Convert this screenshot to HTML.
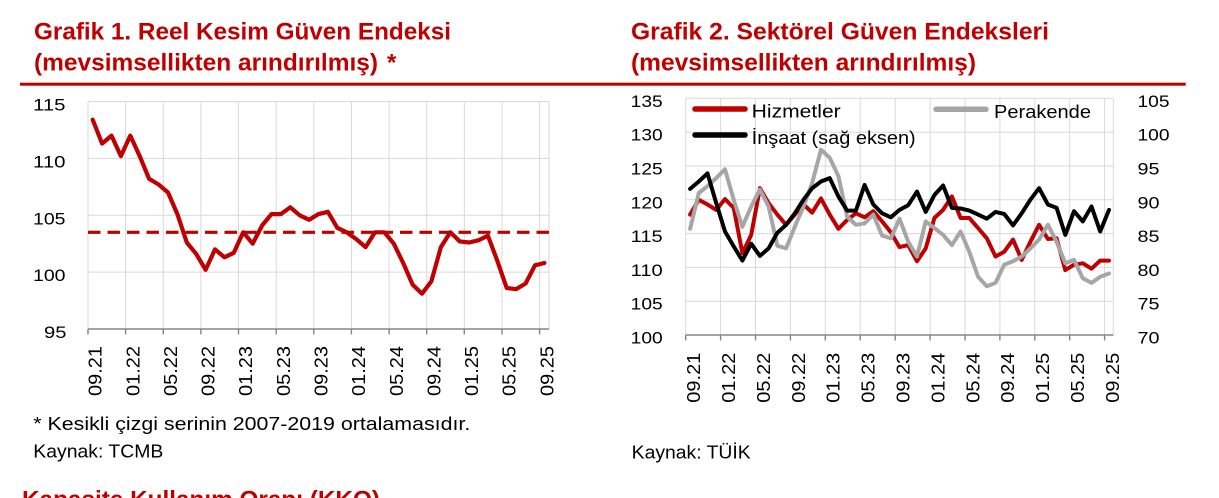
<!DOCTYPE html>
<html><head><meta charset="utf-8"><style>
html,body{margin:0;padding:0;background:#fff;}
svg{display:block;}
text{font-family:"Liberation Sans",Arial,sans-serif;}
</style></head><body>
<svg width="1219" height="498" viewBox="0 0 1219 498" xmlns="http://www.w3.org/2000/svg">
<rect width="1219" height="498" fill="#fff"/>

<!-- Titles -->
<g fill="#C00000" font-weight="bold" font-size="24">
<text x="34" y="39.3" textLength="417" lengthAdjust="spacingAndGlyphs">Grafik 1. Reel Kesim Güven Endeksi</text>
<text x="34" y="70.5" textLength="344" lengthAdjust="spacingAndGlyphs">(mevsimsellikten arındırılmış)</text>
<text x="387" y="70.5">*</text>
<text x="631" y="39.3" textLength="418" lengthAdjust="spacingAndGlyphs">Grafik 2. Sektörel Güven Endeksleri</text>
<text x="631" y="70.5" textLength="345" lengthAdjust="spacingAndGlyphs">(mevsimsellikten arındırılmış)</text>
<text x="22" y="507.7" textLength="358" lengthAdjust="spacingAndGlyphs">Kapasite Kullanım Oranı (KKO)</text>
</g>
<rect x="20" y="82.7" width="1165.7" height="3" fill="#C00000"/>

<!-- ============ LEFT CHART ============ -->
<g stroke="#d9d9d9" stroke-width="1" fill="none">
<line x1="88" y1="101.5" x2="549" y2="101.5"/>
<line x1="88" y1="158.4" x2="549" y2="158.4"/>
<line x1="88" y1="215.25" x2="549" y2="215.25"/>
<line x1="88" y1="272.1" x2="549" y2="272.1"/>
<line x1="88" y1="101.5" x2="88" y2="329"/>
<line x1="125.6" y1="101.5" x2="125.6" y2="329"/>
<line x1="163.3" y1="101.5" x2="163.3" y2="329"/>
<line x1="200.9" y1="101.5" x2="200.9" y2="329"/>
<line x1="238.5" y1="101.5" x2="238.5" y2="329"/>
<line x1="276.2" y1="101.5" x2="276.2" y2="329"/>
<line x1="313.8" y1="101.5" x2="313.8" y2="329"/>
<line x1="351.4" y1="101.5" x2="351.4" y2="329"/>
<line x1="389.1" y1="101.5" x2="389.1" y2="329"/>
<line x1="426.7" y1="101.5" x2="426.7" y2="329"/>
<line x1="464.3" y1="101.5" x2="464.3" y2="329"/>
<line x1="502.0" y1="101.5" x2="502.0" y2="329"/>
<line x1="539.6" y1="101.5" x2="539.6" y2="329"/>
<line x1="549" y1="101.5" x2="549" y2="329"/>
</g>
<g stroke="#868686" stroke-width="1.4" fill="none">
<line x1="88" y1="329" x2="549" y2="329"/>
<path d="M88 329v5.5M125.6 329v5.5M163.3 329v5.5M200.9 329v5.5M238.5 329v5.5M276.2 329v5.5M313.8 329v5.5M351.4 329v5.5M389.1 329v5.5M426.7 329v5.5M464.3 329v5.5M502 329v5.5M539.6 329v5.5"/>
</g>
<g font-size="17" fill="#000" text-anchor="end">
<text x="65.5" y="110.5" textLength="32.5" lengthAdjust="spacingAndGlyphs">115</text>
<text x="65.5" y="167.4" textLength="32.5" lengthAdjust="spacingAndGlyphs">110</text>
<text x="65.5" y="224.3" textLength="32.5" lengthAdjust="spacingAndGlyphs">105</text>
<text x="65.5" y="281.1" textLength="32.5" lengthAdjust="spacingAndGlyphs">100</text>
<text x="66.5" y="338" textLength="22.5" lengthAdjust="spacingAndGlyphs">95</text>
</g>
<g font-size="18" fill="#000" text-anchor="end">
<text transform="translate(101.7,346) rotate(-90)" textLength="50" lengthAdjust="spacingAndGlyphs">09.21</text>
<text transform="translate(139.3,346) rotate(-90)" textLength="50" lengthAdjust="spacingAndGlyphs">01.22</text>
<text transform="translate(177.0,346) rotate(-90)" textLength="50" lengthAdjust="spacingAndGlyphs">05.22</text>
<text transform="translate(214.6,346) rotate(-90)" textLength="50" lengthAdjust="spacingAndGlyphs">09.22</text>
<text transform="translate(252.2,346) rotate(-90)" textLength="50" lengthAdjust="spacingAndGlyphs">01.23</text>
<text transform="translate(289.9,346) rotate(-90)" textLength="50" lengthAdjust="spacingAndGlyphs">05.23</text>
<text transform="translate(327.5,346) rotate(-90)" textLength="50" lengthAdjust="spacingAndGlyphs">09.23</text>
<text transform="translate(365.2,346) rotate(-90)" textLength="50" lengthAdjust="spacingAndGlyphs">01.24</text>
<text transform="translate(402.8,346) rotate(-90)" textLength="50" lengthAdjust="spacingAndGlyphs">05.24</text>
<text transform="translate(440.4,346) rotate(-90)" textLength="50" lengthAdjust="spacingAndGlyphs">09.24</text>
<text transform="translate(478.1,346) rotate(-90)" textLength="50" lengthAdjust="spacingAndGlyphs">01.25</text>
<text transform="translate(515.7,346) rotate(-90)" textLength="50" lengthAdjust="spacingAndGlyphs">05.25</text>
<text transform="translate(553.4,346) rotate(-90)" textLength="50" lengthAdjust="spacingAndGlyphs">09.25</text>
</g>
<line x1="88" y1="232.3" x2="549" y2="232.3" stroke="#C00000" stroke-width="3.2" stroke-dasharray="12.5 7"/>
<polyline fill="none" stroke="#C00000" stroke-width="4.2" stroke-linejoin="round" stroke-linecap="round" points="92.7,119.7 102.1,143.6 111.5,135.6 120.9,156.1 130.3,135.6 139.7,156.1 149.1,178.8 158.6,184.5 168.0,192.5 177.4,214.1 186.8,242.5 196.2,253.9 205.6,269.8 215.0,249.4 224.4,257.3 233.8,252.8 243.2,232.3 252.7,243.7 262.1,225.5 271.5,214.1 280.9,214.1 290.3,207.3 299.7,215.3 309.1,219.8 318.5,214.1 327.9,211.8 337.3,227.8 346.7,232.3 356.2,239.1 365.6,247.1 375.0,232.3 384.4,232.3 393.8,243.7 403.2,263.0 412.6,284.6 422.0,293.7 431.4,281.2 440.9,247.1 450.3,232.3 459.7,241.4 469.1,242.5 478.5,240.3 487.9,235.7 497.3,260.8 506.7,288.0 516.1,289.2 525.6,283.5 535.0,265.3 544.4,263.0"/>

<g font-size="18" fill="#000">
<text x="33.3" y="430" textLength="437" lengthAdjust="spacingAndGlyphs">* Kesikli çizgi serinin 2007-2019 ortalamasıdır.</text>
<text x="33.3" y="457.3" textLength="130" lengthAdjust="spacingAndGlyphs">Kaynak: TCMB</text>
<text x="631.7" y="458.3" textLength="119" lengthAdjust="spacingAndGlyphs">Kaynak: TÜİK</text>
</g>

<!-- ============ RIGHT CHART ============ -->
<g stroke="#d9d9d9" stroke-width="1" fill="none">
<line x1="685.7" y1="98.3" x2="1113.3" y2="98.3"/>
<line x1="685.7" y1="132.2" x2="1113.3" y2="132.2"/>
<line x1="685.7" y1="166.0" x2="1113.3" y2="166.0"/>
<line x1="685.7" y1="199.8" x2="1113.3" y2="199.8"/>
<line x1="685.7" y1="233.6" x2="1113.3" y2="233.6"/>
<line x1="685.7" y1="267.4" x2="1113.3" y2="267.4"/>
<line x1="685.7" y1="301.2" x2="1113.3" y2="301.2"/>
<line x1="685.7" y1="98.3" x2="685.7" y2="335"/>
<line x1="720.6" y1="98.3" x2="720.6" y2="335"/>
<line x1="755.5" y1="98.3" x2="755.5" y2="335"/>
<line x1="790.4" y1="98.3" x2="790.4" y2="335"/>
<line x1="825.3" y1="98.3" x2="825.3" y2="335"/>
<line x1="860.2" y1="98.3" x2="860.2" y2="335"/>
<line x1="895.2" y1="98.3" x2="895.2" y2="335"/>
<line x1="930.1" y1="98.3" x2="930.1" y2="335"/>
<line x1="965.0" y1="98.3" x2="965.0" y2="335"/>
<line x1="999.9" y1="98.3" x2="999.9" y2="335"/>
<line x1="1034.8" y1="98.3" x2="1034.8" y2="335"/>
<line x1="1069.7" y1="98.3" x2="1069.7" y2="335"/>
<line x1="1104.6" y1="98.3" x2="1104.6" y2="335"/>
<line x1="1113.3" y1="98.3" x2="1113.3" y2="335"/>
</g>
<g stroke="#868686" stroke-width="1.4" fill="none">
<line x1="685.7" y1="335" x2="1113.3" y2="335"/>
<path d="M685.7 335v5.5M720.6 335v5.5M755.5 335v5.5M790.4 335v5.5M825.3 335v5.5M860.2 335v5.5M895.2 335v5.5M930.1 335v5.5M965 335v5.5M999.9 335v5.5M1034.8 335v5.5M1069.7 335v5.5M1104.6 335v5.5"/>
</g>
<g font-size="17" fill="#000" text-anchor="end">
<text x="662.7" y="106.8" textLength="32" lengthAdjust="spacingAndGlyphs">135</text>
<text x="662.7" y="140.7" textLength="32" lengthAdjust="spacingAndGlyphs">130</text>
<text x="662.7" y="174.5" textLength="32" lengthAdjust="spacingAndGlyphs">125</text>
<text x="662.7" y="208.3" textLength="32" lengthAdjust="spacingAndGlyphs">120</text>
<text x="662.7" y="242.1" textLength="32" lengthAdjust="spacingAndGlyphs">115</text>
<text x="662.7" y="275.9" textLength="32" lengthAdjust="spacingAndGlyphs">110</text>
<text x="662.7" y="309.7" textLength="32" lengthAdjust="spacingAndGlyphs">105</text>
<text x="662.7" y="343.5" textLength="32" lengthAdjust="spacingAndGlyphs">100</text>
</g>
<g font-size="17" fill="#000">
<text x="1137.5" y="106.8" textLength="32" lengthAdjust="spacingAndGlyphs">105</text>
<text x="1137.5" y="140.7" textLength="32" lengthAdjust="spacingAndGlyphs">100</text>
<text x="1137.5" y="174.5" textLength="22" lengthAdjust="spacingAndGlyphs">95</text>
<text x="1137.5" y="208.3" textLength="22" lengthAdjust="spacingAndGlyphs">90</text>
<text x="1137.5" y="242.1" textLength="22" lengthAdjust="spacingAndGlyphs">85</text>
<text x="1137.5" y="275.9" textLength="22" lengthAdjust="spacingAndGlyphs">80</text>
<text x="1137.5" y="309.7" textLength="22" lengthAdjust="spacingAndGlyphs">75</text>
<text x="1137.5" y="343.5" textLength="22" lengthAdjust="spacingAndGlyphs">70</text>
</g>
<g font-size="18" fill="#000" text-anchor="end">
<text transform="translate(700.1,352.7) rotate(-90)" textLength="50" lengthAdjust="spacingAndGlyphs">09.21</text>
<text transform="translate(735.0,352.7) rotate(-90)" textLength="50" lengthAdjust="spacingAndGlyphs">01.22</text>
<text transform="translate(769.9,352.7) rotate(-90)" textLength="50" lengthAdjust="spacingAndGlyphs">05.22</text>
<text transform="translate(804.8,352.7) rotate(-90)" textLength="50" lengthAdjust="spacingAndGlyphs">09.22</text>
<text transform="translate(839.7,352.7) rotate(-90)" textLength="50" lengthAdjust="spacingAndGlyphs">01.23</text>
<text transform="translate(874.6,352.7) rotate(-90)" textLength="50" lengthAdjust="spacingAndGlyphs">05.23</text>
<text transform="translate(909.5,352.7) rotate(-90)" textLength="50" lengthAdjust="spacingAndGlyphs">09.23</text>
<text transform="translate(944.4,352.7) rotate(-90)" textLength="50" lengthAdjust="spacingAndGlyphs">01.24</text>
<text transform="translate(979.3,352.7) rotate(-90)" textLength="50" lengthAdjust="spacingAndGlyphs">05.24</text>
<text transform="translate(1014.2,352.7) rotate(-90)" textLength="50" lengthAdjust="spacingAndGlyphs">09.24</text>
<text transform="translate(1049.1,352.7) rotate(-90)" textLength="50" lengthAdjust="spacingAndGlyphs">01.25</text>
<text transform="translate(1084.0,352.7) rotate(-90)" textLength="50" lengthAdjust="spacingAndGlyphs">05.25</text>
<text transform="translate(1119.0,352.7) rotate(-90)" textLength="50" lengthAdjust="spacingAndGlyphs">09.25</text>
</g>

<!-- Hizmetler -->
<polyline fill="none" stroke="#C00000" stroke-width="4" stroke-linejoin="round" stroke-linecap="round" points="690.1,214.6 698.8,199.7 707.5,204.5 716.2,209.9 725.0,199.1 733.7,207.9 742.4,253.2 751.2,234.9 759.9,188.2 768.6,203.1 777.3,214.6 786.1,224.8 794.8,214.6 803.5,204.5 812.2,212.6 821.0,198.4 829.7,214.6 838.4,228.8 847.1,220.0 855.9,213.3 864.6,217.3 873.3,211.2 882.1,221.4 890.8,232.2 899.5,247.1 908.2,245.1 917.0,261.3 925.7,248.4 934.4,218.0 943.1,209.9 951.9,196.4 960.6,218.0 969.3,218.0 978.1,228.1 986.8,238.3 995.5,256.5 1004.2,251.8 1013.0,239.6 1021.7,259.9 1030.4,241.7 1039.1,224.8 1047.9,239.0 1056.6,238.3 1065.3,270.1 1074.0,264.7 1082.8,263.3 1091.5,268.7 1100.2,260.6 1109.0,260.6"/>
<!-- Perakende -->
<polyline fill="none" stroke="#A6A6A6" stroke-width="4" stroke-linejoin="round" stroke-linecap="round" points="690.1,228.8 698.8,193.0 707.5,186.2 716.2,178.1 725.0,169.3 733.7,199.7 742.4,226.8 751.2,206.5 759.9,189.6 768.6,206.5 777.3,245.7 786.1,248.4 794.8,226.8 803.5,206.5 812.2,182.8 821.0,149.7 829.7,157.8 838.4,176.1 847.1,216.6 855.9,224.8 864.6,223.4 873.3,214.6 882.1,235.6 890.8,238.3 899.5,218.7 908.2,241.7 917.0,256.5 925.7,221.4 934.4,228.1 943.1,234.9 951.9,245.1 960.6,231.5 969.3,251.8 978.1,276.8 986.8,286.3 995.5,282.9 1004.2,264.7 1013.0,261.3 1021.7,256.5 1030.4,248.4 1039.1,239.6 1047.9,224.8 1056.6,241.7 1065.3,263.3 1074.0,259.9 1082.8,278.2 1091.5,282.9 1100.2,276.8 1109.0,273.5"/>
<!-- İnşaat -->
<polyline fill="none" stroke="#000" stroke-width="4" stroke-linejoin="round" stroke-linecap="round" points="690.1,188.9 698.8,181.5 707.5,173.4 716.2,203.1 725.0,231.5 733.7,246.4 742.4,260.6 751.2,243.7 759.9,255.9 768.6,248.4 777.3,232.9 786.1,224.8 794.8,213.3 803.5,199.7 812.2,188.2 821.0,181.5 829.7,178.1 838.4,196.4 847.1,210.6 855.9,210.6 864.6,184.9 873.3,204.5 882.1,213.3 890.8,217.3 899.5,209.9 908.2,205.2 917.0,191.6 925.7,211.9 934.4,195.0 943.1,185.5 951.9,207.9 960.6,208.5 969.3,210.6 978.1,214.6 986.8,218.7 995.5,211.9 1004.2,213.9 1013.0,225.4 1021.7,213.3 1030.4,199.7 1039.1,188.2 1047.9,204.5 1056.6,207.9 1065.3,234.9 1074.0,211.2 1082.8,221.4 1091.5,206.5 1100.2,231.5 1109.0,209.9"/>

<!-- Legend -->
<g stroke-width="5.5" stroke-linecap="round">
<line x1="695" y1="109" x2="745" y2="109" stroke="#C00000"/>
<line x1="695" y1="135" x2="745" y2="135" stroke="#000"/>
<line x1="936" y1="109.3" x2="986" y2="109.3" stroke="#A6A6A6"/>
</g>
<g font-size="18" fill="#000">
<text x="751.7" y="117.5" textLength="89" lengthAdjust="spacingAndGlyphs">Hizmetler</text>
<text x="751.7" y="144" textLength="164" lengthAdjust="spacingAndGlyphs">İnşaat (sağ eksen)</text>
<text x="994" y="117.8" textLength="97" lengthAdjust="spacingAndGlyphs">Perakende</text>
</g>
</svg>
</body></html>
